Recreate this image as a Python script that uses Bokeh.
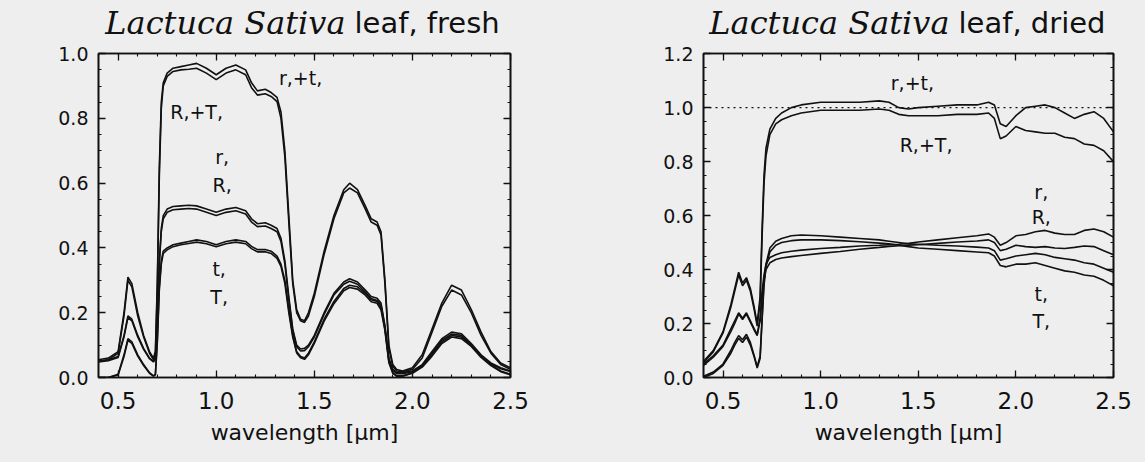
from bokeh.plotting import figure
from bokeh.models import (Label, Span, LinearAxis, SingleIntervalTicker,
                          PrintfTickFormatter, Range1d)
from bokeh.layouts import row, column
from bokeh.embed import file_html
from bokeh.resources import INLINE

# ---------------- data ----------------
wl_fresh = [0.40, 0.45, 0.50, 0.53, 0.55, 0.57, 0.60, 0.63, 0.66, 0.68,
            0.69, 0.70, 0.71, 0.72, 0.73, 0.75, 0.78, 0.82, 0.86, 0.90,
            0.95, 1.00, 1.05, 1.10, 1.15, 1.18, 1.21, 1.25, 1.28, 1.31,
            1.33, 1.35, 1.37, 1.39, 1.41, 1.43, 1.45, 1.47, 1.50, 1.55,
            1.60, 1.65, 1.68, 1.72, 1.76, 1.79, 1.82, 1.84, 1.86, 1.88,
            1.90, 1.92, 1.95, 2.00, 2.05, 2.10, 2.15, 2.20, 2.25, 2.30,
            2.35, 2.40, 2.45, 2.50]

rt_fresh = [0.055, 0.06, 0.08, 0.20, 0.31, 0.29, 0.20, 0.13, 0.08, 0.06,
            0.08, 0.30, 0.65, 0.85, 0.91, 0.94, 0.955, 0.96, 0.965, 0.97,
            0.955, 0.935, 0.955, 0.965, 0.95, 0.91, 0.885, 0.89, 0.88, 0.865,
            0.82, 0.70, 0.50, 0.30, 0.21, 0.18, 0.175, 0.20, 0.26, 0.39,
            0.50, 0.58, 0.60, 0.58, 0.53, 0.49, 0.48, 0.45, 0.30, 0.10,
            0.04, 0.025, 0.02, 0.03, 0.07, 0.15, 0.23, 0.285, 0.27, 0.21,
            0.14, 0.08, 0.045, 0.03]

RT_fresh = [0.05, 0.055, 0.075, 0.19, 0.30, 0.28, 0.19, 0.125, 0.075, 0.055,
            0.07, 0.28, 0.62, 0.83, 0.90, 0.93, 0.945, 0.95, 0.952, 0.955,
            0.94, 0.92, 0.94, 0.95, 0.935, 0.895, 0.872, 0.876, 0.868, 0.852,
            0.80, 0.68, 0.48, 0.29, 0.20, 0.175, 0.17, 0.19, 0.25, 0.38,
            0.49, 0.57, 0.585, 0.57, 0.52, 0.48, 0.47, 0.44, 0.29, 0.09,
            0.035, 0.02, 0.018, 0.025, 0.06, 0.14, 0.22, 0.27, 0.255, 0.20,
            0.13, 0.075, 0.04, 0.025]

r_fresh = [0.05, 0.055, 0.065, 0.13, 0.19, 0.18, 0.13, 0.09, 0.06, 0.05,
           0.06, 0.17, 0.36, 0.46, 0.50, 0.52, 0.528, 0.53, 0.532, 0.53,
           0.52, 0.51, 0.52, 0.525, 0.515, 0.49, 0.475, 0.478, 0.47, 0.46,
           0.43, 0.36, 0.25, 0.15, 0.10, 0.088, 0.09, 0.10, 0.13, 0.20,
           0.26, 0.295, 0.305, 0.295, 0.27, 0.25, 0.245, 0.23, 0.16, 0.06,
           0.025, 0.015, 0.015, 0.02, 0.04, 0.08, 0.12, 0.14, 0.135, 0.105,
           0.07, 0.045, 0.03, 0.02]

R_fresh = [0.048, 0.052, 0.062, 0.125, 0.185, 0.175, 0.125, 0.087, 0.058, 0.048,
           0.057, 0.16, 0.35, 0.45, 0.49, 0.51, 0.518, 0.52, 0.522, 0.52,
           0.51, 0.50, 0.51, 0.515, 0.505, 0.48, 0.466, 0.468, 0.46, 0.45,
           0.42, 0.35, 0.24, 0.145, 0.095, 0.082, 0.083, 0.095, 0.125, 0.195,
           0.255, 0.288, 0.297, 0.288, 0.264, 0.244, 0.238, 0.224, 0.155, 0.055,
           0.022, 0.012, 0.012, 0.018, 0.037, 0.076, 0.115, 0.134, 0.13, 0.10,
           0.066, 0.042, 0.027, 0.018]

t_fresh = [0.0, 0.0, 0.01, 0.07, 0.12, 0.11, 0.07, 0.04, 0.015, 0.005,
           0.01, 0.12, 0.28, 0.36, 0.39, 0.40, 0.41, 0.415, 0.42, 0.425,
           0.42, 0.41, 0.42, 0.425, 0.42, 0.405, 0.395, 0.395, 0.39, 0.375,
           0.35, 0.30, 0.21, 0.13, 0.08, 0.065, 0.06, 0.075, 0.11, 0.18,
           0.235, 0.275, 0.285, 0.28, 0.26, 0.24, 0.235, 0.215, 0.15, 0.05,
           0.015, 0.005, 0.005, 0.015, 0.035, 0.07, 0.11, 0.13, 0.125, 0.10,
           0.065, 0.04, 0.02, 0.01]

T_fresh = [0.0, 0.0, 0.008, 0.065, 0.115, 0.105, 0.066, 0.037, 0.013, 0.004,
           0.008, 0.11, 0.27, 0.35, 0.383, 0.394, 0.404, 0.41, 0.414, 0.418,
           0.413, 0.404, 0.413, 0.418, 0.413, 0.398, 0.388, 0.388, 0.383, 0.368,
           0.343, 0.29, 0.20, 0.125, 0.076, 0.061, 0.056, 0.07, 0.105, 0.174,
           0.228, 0.268, 0.278, 0.273, 0.254, 0.234, 0.229, 0.209, 0.145, 0.046,
           0.013, 0.004, 0.004, 0.013, 0.032, 0.066, 0.105, 0.125, 0.12, 0.096,
           0.062, 0.037, 0.018, 0.008]

wl_dried = [0.40, 0.45, 0.50, 0.54, 0.56, 0.58, 0.60, 0.62, 0.64, 0.66,
            0.675, 0.69, 0.70, 0.71, 0.72, 0.74, 0.77, 0.80, 0.85, 0.90,
            1.00, 1.10, 1.20, 1.30, 1.35, 1.40, 1.45, 1.50, 1.60, 1.70,
            1.80, 1.86, 1.89, 1.92, 1.95, 2.00, 2.05, 2.10, 2.15, 2.20,
            2.25, 2.30, 2.35, 2.40, 2.45, 2.50]

rt_dried = [0.06, 0.10, 0.17, 0.27, 0.33, 0.39, 0.35, 0.37, 0.33, 0.26,
            0.20, 0.30, 0.55, 0.75, 0.85, 0.92, 0.96, 0.98, 1.00, 1.01,
            1.02, 1.02, 1.02, 1.025, 1.02, 1.00, 0.995, 1.00, 1.005, 1.01,
            1.01, 1.02, 1.01, 0.94, 0.93, 0.97, 1.00, 1.005, 1.01, 1.00,
            0.98, 0.96, 0.975, 0.985, 0.96, 0.91]

RT_dried = [0.055, 0.095, 0.165, 0.26, 0.32, 0.38, 0.34, 0.36, 0.32, 0.25,
            0.19, 0.28, 0.52, 0.72, 0.82, 0.90, 0.94, 0.955, 0.97, 0.98,
            0.99, 0.99, 0.99, 0.995, 0.99, 0.975, 0.97, 0.97, 0.97, 0.975,
            0.975, 0.98, 0.96, 0.885, 0.895, 0.93, 0.915, 0.91, 0.905, 0.905,
            0.89, 0.885, 0.865, 0.86, 0.84, 0.80]

r_dried = [0.05, 0.08, 0.12, 0.18, 0.21, 0.24, 0.22, 0.24, 0.21, 0.18,
           0.16, 0.22, 0.32, 0.38, 0.42, 0.445, 0.455, 0.462, 0.468, 0.472,
           0.478, 0.482, 0.487, 0.49, 0.492, 0.494, 0.497, 0.502, 0.51, 0.518,
           0.525, 0.532, 0.52, 0.49, 0.50, 0.525, 0.53, 0.54, 0.545, 0.535,
           0.53, 0.53, 0.545, 0.55, 0.54, 0.52]

R_dried = [0.045, 0.075, 0.115, 0.17, 0.20, 0.235, 0.215, 0.235, 0.205, 0.175,
           0.155, 0.21, 0.30, 0.36, 0.40, 0.425, 0.437, 0.443, 0.448, 0.452,
           0.46, 0.467, 0.475, 0.482, 0.486, 0.488, 0.49, 0.492, 0.497, 0.502,
           0.506, 0.51, 0.50, 0.47, 0.475, 0.49, 0.485, 0.482, 0.485, 0.48,
           0.478, 0.482, 0.487, 0.485, 0.47, 0.455]

t_dried = [0.005, 0.02, 0.05, 0.10, 0.13, 0.155, 0.14, 0.16, 0.13, 0.08,
           0.04, 0.08, 0.22, 0.36, 0.42, 0.48, 0.505, 0.515, 0.525, 0.528,
           0.525, 0.52, 0.515, 0.51, 0.505, 0.50, 0.495, 0.494, 0.49, 0.487,
           0.483, 0.48, 0.47, 0.435, 0.44, 0.45, 0.455, 0.46, 0.455, 0.445,
           0.44, 0.435, 0.425, 0.42, 0.405, 0.39]

T_dried = [0.0, 0.015, 0.045, 0.09, 0.12, 0.145, 0.13, 0.15, 0.12, 0.075,
           0.035, 0.07, 0.21, 0.34, 0.41, 0.465, 0.49, 0.50, 0.507, 0.51,
           0.51, 0.507, 0.503, 0.498, 0.495, 0.49, 0.485, 0.48, 0.475, 0.47,
           0.465, 0.462, 0.45, 0.415, 0.41, 0.42, 0.42, 0.425, 0.415, 0.405,
           0.395, 0.39, 0.38, 0.375, 0.36, 0.34]

curve_labels = ["r,+t,", "R,+T,", "r,", "R,", "t,", "T,"]
x_label = "wavelength [μm]"
title_species = "Lactuca Sativa"
title_fresh = "leaf, fresh"
title_dried = "leaf, dried"

# ---------------- style ----------------
BG = "#eeeeee"
SANS = "DejaVu Sans"
SERIF = "DejaVu Serif"
INK = "#111111"
FRAME_H = 324
HEADER_H = 42
TOTAL_W = 1145


def style_axis(ax, major_iv, n_minor, show, size="22px"):
    ax.ticker = SingleIntervalTicker(interval=major_iv, num_minor_ticks=n_minor)
    ax.major_tick_in = 7
    ax.major_tick_out = 0
    ax.minor_tick_in = 3
    ax.minor_tick_out = 0
    ax.major_tick_line_color = INK
    ax.minor_tick_line_color = INK
    ax.major_tick_line_width = 1.3
    ax.minor_tick_line_width = 1.1
    ax.axis_line_color = INK
    ax.axis_line_width = 1.6
    ax.formatter = PrintfTickFormatter(format="%.1f")
    if show:
        ax.major_label_text_font = SANS
        ax.major_label_text_font_size = size
        ax.major_label_text_color = INK
    else:
        ax.major_label_text_font_size = "1px"
        ax.major_label_text_alpha = 0
        ax.major_label_standoff = 0


def panel(ymax, border_left, frame_w, border_right):
    p = figure(frame_width=frame_w, frame_height=FRAME_H,
               min_border_left=border_left, min_border_right=border_right,
               min_border_top=11, min_border_bottom=85,
               x_range=Range1d(0.4, 2.5), y_range=Range1d(0.0, ymax + 0.0005),
               output_backend="svg", toolbar_location=None,
               background_fill_color=BG, border_fill_color=BG)
    p.grid.visible = False
    p.outline_line_color = INK
    p.outline_line_width = 1.6

    xb = p.xaxis[0]
    yl = p.yaxis[0]
    style_axis(xb, 0.5, 5, True, "23px")
    style_axis(yl, 0.2, 4, True, "19px")
    xb.major_label_standoff = 14
    yl.major_label_standoff = 10
    xb.axis_label = x_label
    xb.axis_label_text_font = SANS
    xb.axis_label_text_font_size = "22px"
    xb.axis_label_text_font_style = "normal"
    xb.axis_label_text_color = INK
    xb.axis_label_standoff = 8

    xt = LinearAxis()
    style_axis(xt, 0.5, 5, False)
    p.add_layout(xt, "above")
    yr = LinearAxis()
    style_axis(yr, 0.2, 4, False)
    p.add_layout(yr, "right")
    return p


def add_curves(p, wl, series):
    for ys in series:
        p.line(wl, ys, line_color=INK, line_width=1.6)


def add_labels(p, positions):
    for txt, (x, y) in zip(curve_labels, positions):
        p.add_layout(Label(x=x, y=y, text=txt, text_font=SANS,
                           text_font_size="19px", text_color=INK,
                           text_align="center", text_baseline="middle"))


# header strip holding the two panel titles (pixel-like coordinates)
header = figure(width=TOTAL_W, height=HEADER_H, x_range=Range1d(0, TOTAL_W),
                y_range=Range1d(0, HEADER_H), min_border=0,
                x_axis_location=None, y_axis_location=None,
                output_backend="svg", toolbar_location=None,
                background_fill_color=BG, border_fill_color=BG)
header.grid.visible = False
header.outline_line_color = None


def add_title(split, rest):
    header.add_layout(Label(x=split - 4, y=20, text=title_species,
                            text_font=SERIF, text_font_style="italic",
                            text_font_size="32px", text_color=INK,
                            text_align="right", text_baseline="alphabetic"))
    header.add_layout(Label(x=split + 5, y=20, text=rest, text_font=SANS,
                            text_font_size="29px", text_color=INK,
                            text_align="left", text_baseline="alphabetic"))


add_title(349, title_fresh)
add_title(953, title_dried)

p1 = panel(1.0, 98, 412, 62)
add_curves(p1, wl_fresh, [rt_fresh, RT_fresh, r_fresh, R_fresh, t_fresh, T_fresh])
add_labels(p1, [(1.43, 0.925), (0.90, 0.82), (1.03, 0.68),
                (1.03, 0.595), (1.015, 0.335), (1.015, 0.25)])

p2 = panel(1.2, 131, 410, 32)
p2.add_layout(Span(location=1.0, dimension="width", line_color=INK,
                   line_width=1.1, line_dash="2 4"))
add_curves(p2, wl_dried, [rt_dried, RT_dried, r_dried, R_dried, t_dried, T_dried])
add_labels(p2, [(1.47, 1.093), (1.54, 0.86), (2.13, 0.688),
                (2.13, 0.596), (2.13, 0.309), (2.13, 0.21)])

layout = column(header, row(p1, p2, spacing=0), spacing=0,
                styles={"background-color": BG})
open("out.html", "w").write(file_html(layout, INLINE))
